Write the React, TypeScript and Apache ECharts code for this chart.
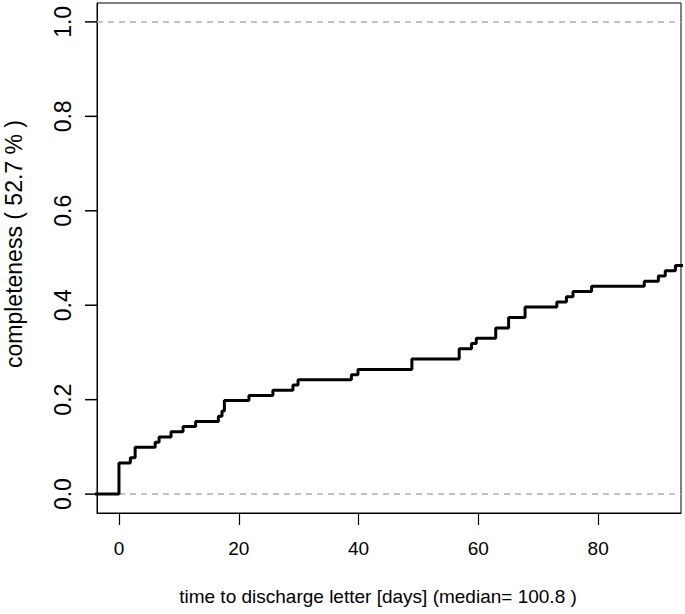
import React, { useEffect, useRef } from "react";
import * as echarts from "echarts";

// Step curve: time (days) at which completeness changes, and the new value
const days = [-4, 0, 1.9, 2.7, 6.05, 6.7, 8.7, 10.7, 12.8, 16.6, 17.2, 17.6, 21.7, 25.7, 29.05, 29.9, 38.8, 39.9, 48.9, 56.8, 58.85, 59.65, 62.9, 65.05, 67.8, 73.1, 74.7, 75.8, 78.9, 87.7, 90.05, 91.2, 92.9, 95];
const completeness = [0, 0.066, 0.077, 0.099, 0.11, 0.121, 0.132, 0.143, 0.154, 0.165, 0.176, 0.198, 0.209, 0.22, 0.231, 0.242, 0.253, 0.264, 0.286, 0.308, 0.319, 0.33, 0.352, 0.374, 0.396, 0.407, 0.418, 0.429, 0.44, 0.451, 0.462, 0.473, 0.484, 0.484];

const xTicks = [0, 20, 40, 60, 80];
const yTicks = [0, 0.2, 0.4, 0.6, 0.8, 1.0];
const refLines = [0, 1];

const xTitle = "time to discharge letter [days] (median= 100.8 )";
const yTitle = "completeness ( 52.7 % )";

const X_MIN = -3.667;
const X_MAX = 93.83;
const TICK_LEN = 12;
const FONT = "'Liberation Sans', Arial, Helvetica, sans-serif";

export default function App() {
  const ref = useRef<HTMLDivElement>(null);
  useEffect(() => {
    document.body.style.margin = "0";
    const chart = echarts.init(ref.current!, null, { renderer: "svg" });
    const data = days.map((d, i) => [d, completeness[i]]);
    chart.setOption({
      animation: false,
      backgroundColor: "#ffffff",
      textStyle: { fontFamily: FONT },
      grid: {
        left: 97,
        right: 4,
        top: 3,
        bottom: 101,
        show: true,
        borderColor: "#000",
        borderWidth: 1,
        backgroundColor: "transparent",
        containLabel: false,
        outerBoundsMode: "none",
      },
      xAxis: {
        type: "value",
        min: X_MIN,
        max: X_MAX,
        name: xTitle,
        nameLocation: "middle",
        nameGap: 74,
        nameTextStyle: { fontSize: 19, color: "#000", fontFamily: FONT, padding: [0, 22, 0, 0] },
        axisLine: { show: true, onZero: false, lineStyle: { color: "#000", width: 1 } },
        splitLine: { show: false },
        axisTick: {
          show: true,
          length: TICK_LEN,
          customValues: xTicks,
          lineStyle: { color: "#000", width: 1.2 },
        },
        axisLabel: {
          customValues: xTicks,
          margin: 26,
          fontSize: 19,
          color: "#000",
          fontFamily: FONT,
          formatter: (v: number) => String(v),
        },
      },
      yAxis: {
        type: "value",
        min: -0.04,
        max: 1.04,
        position: "left",
        name: yTitle,
        nameLocation: "middle",
        nameGap: 72,
        nameTextStyle: { fontSize: 23, color: "#000", fontFamily: FONT, padding: [0, 0, 0, 28] },
        axisLine: { show: true, onZero: false, lineStyle: { color: "#000", width: 1 } },
        splitLine: { show: false },
        axisTick: { show: false },
        axisLabel: {
          customValues: yTicks,
          rotate: 90,
          margin: 23,
          fontSize: 23,
          color: "#000",
          fontFamily: FONT,
          formatter: (v: number) => v.toFixed(1),
        },
      },
      series: [
        {
          type: "line",
          data,
          step: "end",
          showSymbol: false,
          symbol: "none",
          clip: true,
          lineStyle: { color: "#000", width: 3 },
          z: 3,
          markLine: {
            silent: true,
            symbol: ["none", "none"],
            label: { show: false },
            lineStyle: { color: "#b0b0b0", type: [6, 5], width: 1.5 },
            data: refLines.map((v) => ({ yAxis: v })),
            z: 2,
          },
        },
        {
          // y-axis tick marks, outward (R style)
          type: "custom",
          clip: false,
          silent: true,
          data: yTicks.map((v) => [X_MIN, v]),
          renderItem: (params: any, api: any) => {
            const p = api.coord([api.value(0), api.value(1)]);
            return {
              type: "line",
              shape: { x1: p[0] - TICK_LEN, y1: p[1], x2: p[0], y2: p[1] },
              style: { stroke: "#000", lineWidth: 1.5 },
            };
          },
          z: 10,
        },
      ],
    });
    return () => chart.dispose();
  }, []);
  return <div ref={ref} style={{ width: 685, height: 614 }} />;
}
